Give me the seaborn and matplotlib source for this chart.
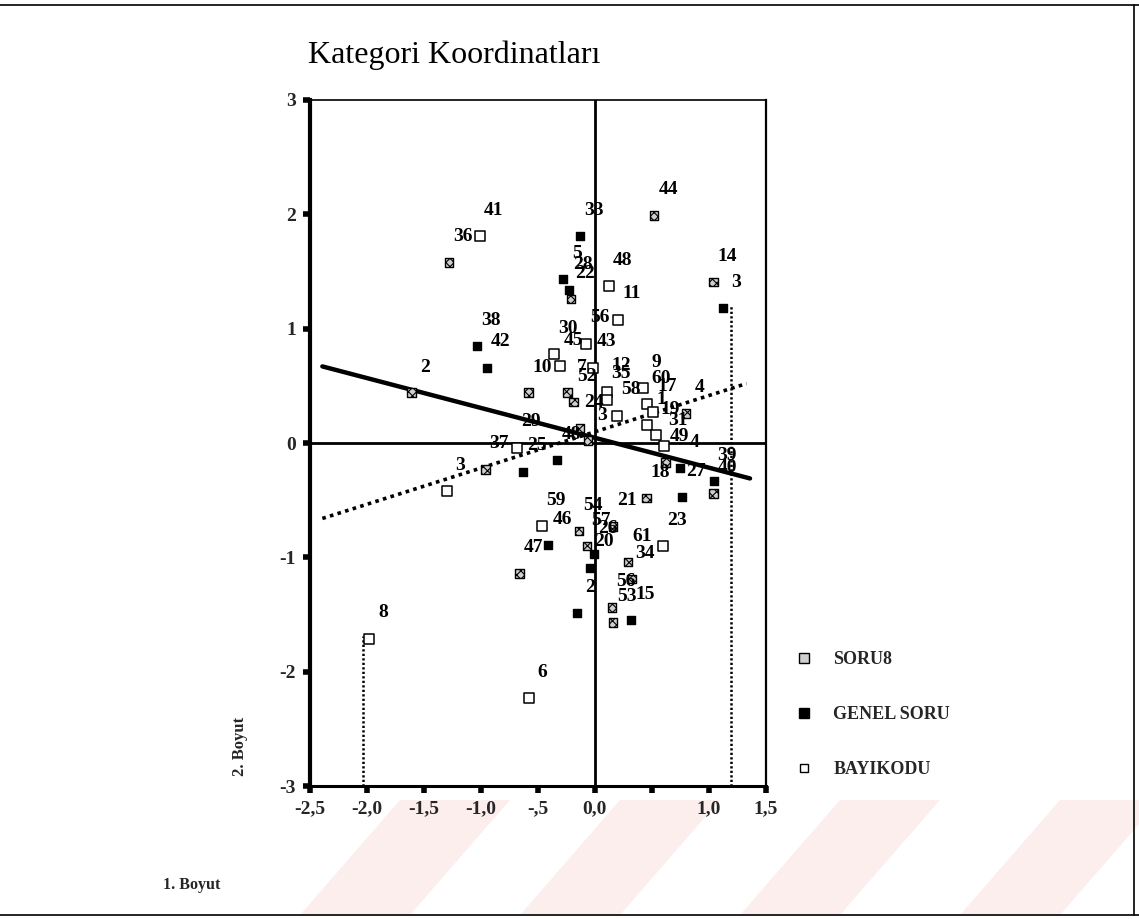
import numpy as np
import pandas as pd
import matplotlib
matplotlib.use("Agg")
import matplotlib.pyplot as plt
import seaborn as sns
from matplotlib.lines import Line2D
from matplotlib.patches import Polygon

# ---------------- data ----------------
soru8_x = [-1.28, 0.52, -0.21, 1.04, -0.58, -1.61, -0.24, -0.19, 0.80, -0.13, -0.06,
           0.62, 0.45, 0.16, -0.07, -0.14, 1.04, 0.29, 0.32, 0.15, 0.16, -0.96, -0.66]
soru8_y = [1.58, 1.99, 1.26, 1.41, 0.44, 0.44, 0.44, 0.36, 0.26, 0.13, 0.02,
           -0.17, -0.48, -0.73, -0.90, -0.77, -0.44, -1.04, -1.19, -1.44, -1.57, -0.23, -1.14]
soru8_lab = ["36", "44", "22", "14", "10", "2", "7", "52", "4", "24", "3",
             "49", "18", "21", "57", "54", "40", "61", "34", "56", "53", "37", "47"]

genel_x = [-0.13, -0.28, -0.23, 1.12, -1.03, -0.95, 0.75, -0.01, -0.04, -0.16,
           0.76, 1.04, 0.32, -0.63, -0.33, -0.41]
genel_y = [1.81, 1.43, 1.34, 1.18, 0.85, 0.66, -0.22, -0.97, -1.09, -1.49,
           -0.47, -0.33, -1.55, -0.25, -0.15, -0.89]
genel_lab = ["33", "5", "28", "3", "38", "42", "4", "26", "20", "2",
             "27", "39", "15", "25", "48", "46"]

bayi_x = [-1.01, 0.20, 0.12, -0.08, -0.02, -0.36, -0.31, 0.11, 0.11, 0.19, 0.42,
          0.46, 0.51, 0.46, 0.54, 0.61, 0.60, -0.68, -1.30, -0.46, -1.98, -0.58]
bayi_y = [1.81, 1.08, 1.37, 0.87, 0.66, 0.78, 0.67, 0.45, 0.38, 0.24, 0.48,
          0.34, 0.27, 0.16, 0.07, -0.03, -0.90, -0.04, -0.42, -0.73, -1.71, -2.23]
bayi_lab = ["41", "11", "48", "56", "43", "30", "45", "12", "35", "58", "9",
            "60", "17", "1", "19", "31", "23", "29", "3", "59", "8", "6"]

solid_line_x = [-2.39, 1.36]
solid_line_y = [0.67, -0.31]
dotted_line_x = [-2.39, 1.33]
dotted_line_y = [-0.66, 0.52]
drop_left_x = [-2.03, -2.03]
drop_left_y = [-3.0, -1.69]
drop_right_x = [1.19, 1.19]
drop_right_y = [-3.0, 1.20]

x_ticks = [-2.5, -2.0, -1.5, -1.0, -0.5, 0.0, 0.5, 1.0, 1.5]
x_tick_labels = ["-2,5", "-2,0", "-1,5", "-1,0", "-,5", "0,0", "", "1,0", "1,5"]
y_ticks = [-3, -2, -1, 0, 1, 2, 3]
y_tick_labels = ["-3", "-2", "-1", "0", "1", "2", "3"]

series_names = ["SORU8", "GENEL SORU", "BAYIKODU"]

# ---------------- styling ----------------
sns.set_theme(style="white")
plt.rcParams["font.family"] = ["Liberation Serif", "DejaVu Serif"]
plt.rcParams["hatch.linewidth"] = 0.8

fig = plt.figure(figsize=(11.39, 9.19), dpi=100)
ax = fig.add_axes([0.272, 0.1447, 0.4005, 0.7465])

df_s = pd.DataFrame({"x": soru8_x, "y": soru8_y, "lab": soru8_lab})
df_g = pd.DataFrame({"x": genel_x, "y": genel_y, "lab": genel_lab})
df_b = pd.DataFrame({"x": bayi_x, "y": bayi_y, "lab": bayi_lab})

# reference lines through origin
ax.axvline(0, color="black", lw=2.0, zorder=1)
ax.axhline(0, color="black", lw=2.0, zorder=1)

# fitted / reference lines
sns.lineplot(x=solid_line_x, y=solid_line_y, ax=ax, color="black", lw=3.2,
             estimator=None, sort=False, zorder=2)
sns.lineplot(x=dotted_line_x, y=dotted_line_y, ax=ax, color="black", lw=2.6,
             linestyle=(0, (1, 1.2)), estimator=None, sort=False, zorder=2)
for xs, ys in ((drop_left_x, drop_left_y), (drop_right_x, drop_right_y)):
    sns.lineplot(x=xs, y=ys, ax=ax, color="black", lw=1.8,
                 linestyle=(0, (0.9, 0.9)), estimator=None, sort=False, zorder=2)

sns.scatterplot(data=df_s, x="x", y="y", ax=ax, marker="s", s=38,
                facecolor="#cfcfcf", edgecolor="black", linewidth=1.0,
                hatch="xxxx", zorder=4)
sns.scatterplot(data=df_g, x="x", y="y", ax=ax, marker="s", s=36,
                color="black", edgecolor="black", linewidth=1.0, zorder=4)
sns.scatterplot(data=df_b, x="x", y="y", ax=ax, marker="s", s=42,
                facecolor="white", edgecolor="black", linewidth=1.1, zorder=4)

for d in (df_s, df_g, df_b):
    for _, r in d.iterrows():
        ax.annotate(r["lab"], (r["x"], r["y"]), xytext=(10, 18.5),
                    textcoords="offset points", ha="center", va="center",
                    fontsize=14, fontweight="bold", color="black", zorder=5)

ax.set_xlim(-2.5, 1.5)
ax.set_ylim(-3, 3)
ax.set_xticks(x_ticks)
ax.set_xticklabels(x_tick_labels)
ax.set_yticks(y_ticks)
ax.set_yticklabels(y_tick_labels)
ax.set_xlabel("")
ax.set_ylabel("")
ax.tick_params(axis="both", which="both", direction="out", length=5, width=4,
               color="black", labelsize=14, pad=5, bottom=True, left=True)
for lab in ax.get_xticklabels() + ax.get_yticklabels():
    lab.set_fontweight("bold")
ax.spines["left"].set_linewidth(3.0)
ax.spines["bottom"].set_linewidth(2.2)
ax.spines["top"].set_linewidth(1.2)
ax.spines["right"].set_linewidth(1.6)
for sp in ax.spines.values():
    sp.set_color("black")
    sp.set_visible(True)

# title and axis names
fig.text(0.270, 0.940, "Kategori Koordinatları", fontsize=23, ha="left",
         va="center", color="black")
fig.text(0.211, 0.188, "2. Boyut", rotation=90, fontsize=12, fontweight="bold",
         ha="center", va="center")
fig.text(0.143, 0.037, "1. Boyut", fontsize=11.5, fontweight="bold",
         ha="left", va="center")

# legend
handles = [
    Line2D([], [], marker="s", ls="", markersize=7, markerfacecolor="#cfcfcf",
           markeredgecolor="black", markeredgewidth=1.0),
    Line2D([], [], marker="s", ls="", markersize=7, markerfacecolor="black",
           markeredgecolor="black"),
    Line2D([], [], marker="s", ls="", markersize=6, markerfacecolor="white",
           markeredgecolor="black", markeredgewidth=1.0),
]
leg = fig.legend(handles, series_names, loc="upper left",
                 bbox_to_anchor=(0.684, 0.309), frameon=False,
                 handlelength=1.0, handletextpad=1.1, labelspacing=2.1,
                 prop={"family": "Liberation Serif", "weight": "bold", "size": 13})

# faint watermark bands (scan artefact)
bands = [(300, 410), (520, 620), (740, 840), (960, 1060)]
for x0, x1 in bands:
    poly = Polygon([(x0 / 1139, 1 - 915 / 919), (x1 / 1139, 1 - 915 / 919),
                    ((x1 + 100) / 1139, 1 - 800 / 919), ((x0 + 100) / 1139, 1 - 800 / 919)],
                   closed=True, transform=fig.transFigure, facecolor="#fdeeee",
                   edgecolor="none", zorder=0)
    fig.add_artist(poly)

# page frame
fig.add_artist(Line2D([0, 1], [1 - 5 / 919, 1 - 5 / 919], transform=fig.transFigure,
                      color="black", lw=1.2))
fig.add_artist(Line2D([0, 1], [1 - 915 / 919, 1 - 915 / 919], transform=fig.transFigure,
                      color="black", lw=1.2))
fig.add_artist(Line2D([1134 / 1139, 1134 / 1139], [1 - 915 / 919, 1 - 5 / 919],
                      transform=fig.transFigure, color="black", lw=1.2))

fig.savefig("out.png", dpi=100, facecolor="white")
